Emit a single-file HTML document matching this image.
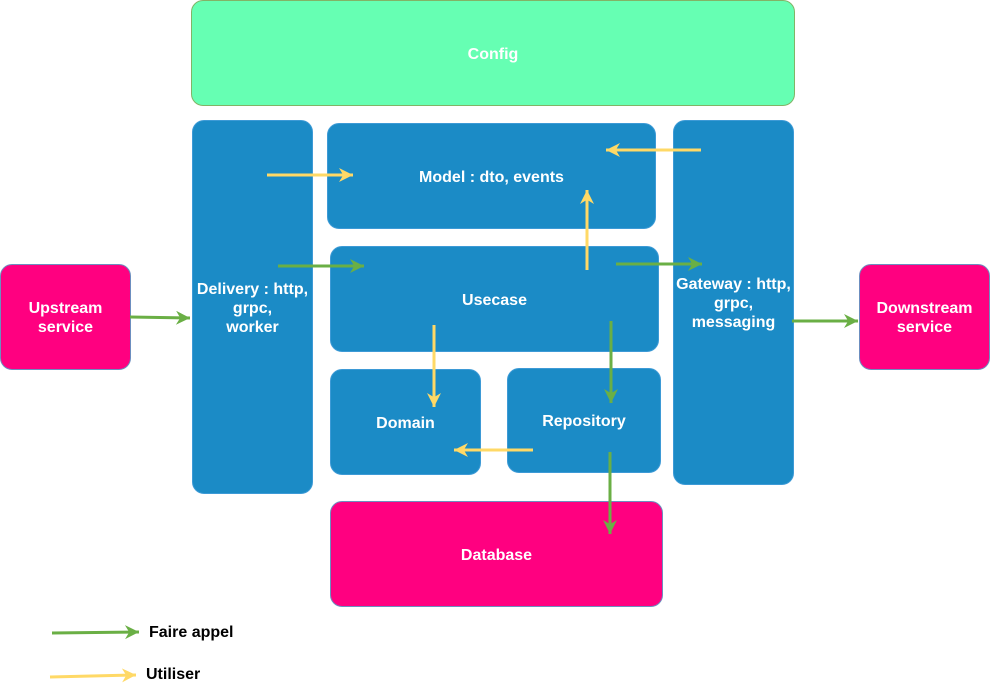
<!DOCTYPE html>
<html><head><meta charset="utf-8"><style>
body{margin:0;width:990px;height:690px;background:#fff;position:relative;overflow:hidden;font-family:"Liberation Sans",sans-serif}
.b{position:absolute;box-sizing:border-box;border-radius:12px;display:flex;align-items:center;justify-content:center;text-align:center;color:#fff;font-weight:bold;font-size:16px;line-height:19px;padding-top:2px}
.bl{background:#1b8bc6;border:1px solid #3d9ad6}
.pk{background:#ff0080;border:1px solid #6c8ebf}
.lg{position:absolute;font-weight:bold;font-size:16px;color:#000}
svg{position:absolute;left:0;top:0}
</style></head><body>
<div class="b" style="left:191px;top:0;width:604px;height:106px;background:#66ffb3;border:1px solid #82b366">Config</div>
<div class="b bl" style="left:192px;top:120px;width:121px;height:374px">Delivery : http,<br>grpc,<br>worker</div>
<div class="b bl" style="left:327px;top:123px;width:329px;height:106px">Model : dto, events</div>
<div class="b bl" style="left:330px;top:246px;width:329px;height:106px">Usecase</div>
<div class="b bl" style="left:330px;top:369px;width:151px;height:106px">Domain</div>
<div class="b bl" style="left:507px;top:368px;width:154px;height:105px">Repository</div>
<div class="b bl" style="left:673px;top:120px;width:121px;height:365px">Gateway : http,<br>grpc,<br>messaging</div>
<div class="b pk" style="left:0;top:264px;width:131px;height:106px">Upstream<br>service</div>
<div class="b pk" style="left:859px;top:264px;width:131px;height:106px">Downstream<br>service</div>
<div class="b pk" style="left:330px;top:501px;width:333px;height:106px">Database</div>
<div class="lg" style="left:149px;top:624px">Faire appel</div>
<div class="lg" style="left:146px;top:666px">Utiliser</div>
<svg width="990" height="690">
<defs>
<marker id="g" markerWidth="16" markerHeight="14" refX="10" refY="5" orient="auto" markerUnits="userSpaceOnUse" viewBox="0 0 10 10"><path d="M0,0 L10,5 L0,10 L3,5z" fill="#6aaf45"/></marker>
<marker id="y" markerWidth="16" markerHeight="14" refX="10" refY="5" orient="auto" markerUnits="userSpaceOnUse" viewBox="0 0 10 10"><path d="M0,0 L10,5 L0,10 L3,5z" fill="#ffd966"/></marker>
</defs>
<g stroke-width="3" fill="none">
<line x1="130" y1="317" x2="190" y2="318" stroke="#6aaf45" marker-end="url(#g)"/>
<line x1="267" y1="175" x2="353" y2="175" stroke="#ffd966" marker-end="url(#y)"/>
<line x1="278" y1="266" x2="364" y2="266" stroke="#6aaf45" marker-end="url(#g)"/>
<line x1="701" y1="150" x2="606" y2="150" stroke="#ffd966" marker-end="url(#y)"/>
<line x1="587" y1="270" x2="587" y2="190" stroke="#ffd966" marker-end="url(#y)"/>
<line x1="616" y1="264" x2="702" y2="264" stroke="#6aaf45" marker-end="url(#g)"/>
<line x1="434" y1="325" x2="434" y2="407" stroke="#ffd966" marker-end="url(#y)"/>
<line x1="611" y1="321" x2="611" y2="403" stroke="#6aaf45" marker-end="url(#g)"/>
<line x1="533" y1="450" x2="454" y2="450" stroke="#ffd966" marker-end="url(#y)"/>
<line x1="610" y1="452" x2="610" y2="534" stroke="#6aaf45" marker-end="url(#g)"/>
<line x1="792" y1="321" x2="858" y2="321" stroke="#6aaf45" marker-end="url(#g)"/>
<line x1="52" y1="633" x2="139" y2="632" stroke="#6aaf45" marker-end="url(#g)"/>
<line x1="50" y1="677" x2="136" y2="675" stroke="#ffd966" marker-end="url(#y)"/>
</g>
</svg>
</body></html>
